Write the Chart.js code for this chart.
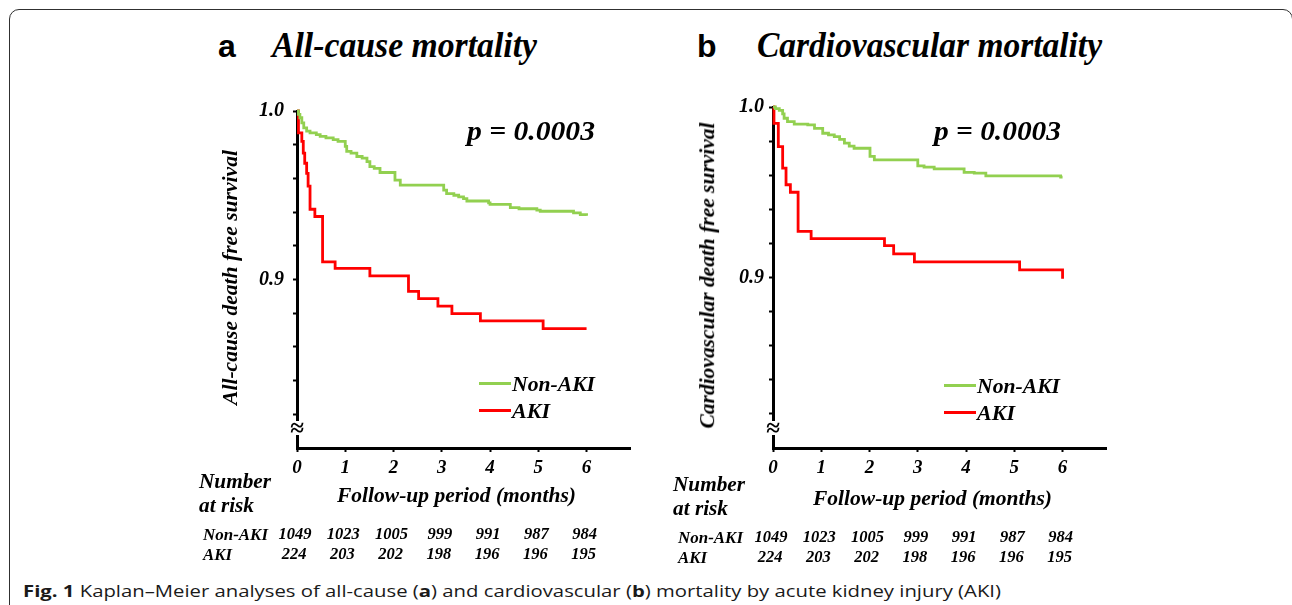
<!DOCTYPE html>
<html>
<head>
<meta charset="utf-8">
<script src="https://cdn.jsdelivr.net/npm/chart.js@4.4.1/dist/chart.umd.min.js"></script>
<style>
  html, body { margin: 0; padding: 0; background: #fff; }
  body { width: 1292px; height: 605px; position: relative; overflow: hidden; }
  .frame { position: absolute; left: 9px; top: 9px; width: 1284px; height: 700px; box-sizing: border-box;
           border: 1.6px solid #303030; border-radius: 10px; }
  canvas { position: absolute; }
  .txt { position: absolute; white-space: nowrap; color: #000; font-family: "Liberation Serif", serif;
         font-style: italic; font-weight: bold; }
  .key { position: absolute; height: 3px; }
  .brk { position: absolute; width: 14px; height: 14px; background: #fff; text-align: center;
         font: bold 25px/14px "Liberation Serif", serif; color: #000; }
  .caption { position: absolute; left: 23px; top: 581px; font-family: "Open Sans", sans-serif; font-size: 16px;
             line-height: 20px; color: #1a1a1a; white-space: nowrap; transform-origin: 0 50%; }
</style>
</head>
<body>
<div class="frame"></div>
<canvas id="chartA" width="470" height="400" style="left:180px;top:90px;width:470px;height:400px"></canvas>
<canvas id="chartB" width="470" height="400" style="left:656px;top:90px;width:470px;height:400px"></canvas>
<div class="caption" id="caption"><b>Fig. 1</b> Kaplan–Meier analyses of all-cause (<b>a</b>) and cardiovascular (<b>b</b>) mortality by acute kidney injury (AKI)</div>
<script>
const xTicks = [0, 1, 2, 3, 4, 5, 6];
const yTicks = [0.82, 0.84, 0.86, 0.88, 0.90, 0.92, 0.94, 0.96, 0.98, 1.00];
const yTickLabels = { "1.00": "1.0", "0.90": "0.9" };
const riskNonAKI = [1049, 1023, 1005, 999, 991, 987, 984];
const riskAKI = [224, 203, 202, 198, 196, 196, 195];

// a: all-cause mortality (event time in months, survival after the event)
const aNonAkiTime = [0, 0.03, 0.06, 0.10, 0.14, 0.20, 0.27, 0.40, 0.48, 0.60, 0.75, 0.85, 1.00, 1.03, 1.12, 1.24, 1.35, 1.45, 1.51, 1.60, 1.72, 2.03, 2.14, 3.04, 3.10, 3.25, 3.35, 3.45, 3.52, 3.97, 4.00, 4.42, 4.60, 4.97, 5.04, 5.73, 5.87, 6.00];
const aNonAkiSurv = [1.000, 0.998, 0.996, 0.993, 0.990, 0.988, 0.987, 0.986, 0.985, 0.984, 0.983, 0.982, 0.979, 0.976, 0.975, 0.973, 0.972, 0.970, 0.967, 0.966, 0.9635, 0.959, 0.956, 0.953, 0.951, 0.950, 0.949, 0.948, 0.9466, 0.9455, 0.9446, 0.9427, 0.942, 0.9412, 0.9405, 0.9395, 0.9385, 0.9378];
const aAkiTime = [0, 0.03, 0.10, 0.13, 0.16, 0.20, 0.23, 0.27, 0.37, 0.53, 0.79, 1.51, 2.31, 2.52, 2.92, 3.21, 3.80, 5.10, 6.00];
const aAkiSurv = [1.000, 0.987, 0.982, 0.975, 0.969, 0.963, 0.9554, 0.9417, 0.9374, 0.9105, 0.9066, 0.9022, 0.893, 0.8887, 0.8842, 0.8797, 0.8754, 0.8709, 0.8709];

// b: cardiovascular mortality
const bNonAkiTime = [0, 0.05, 0.13, 0.20, 0.23, 0.30, 0.44, 0.72, 0.86, 1.03, 1.15, 1.27, 1.38, 1.48, 1.58, 1.68, 2.01, 2.10, 3.00, 3.13, 3.34, 3.96, 4.17, 4.41, 5.96, 6.00];
const bNonAkiSurv = [1.000, 0.999, 0.998, 0.996, 0.9934, 0.9914, 0.990, 0.9895, 0.9875, 0.9846, 0.9836, 0.9826, 0.981, 0.9788, 0.977, 0.9758, 0.971, 0.969, 0.9655, 0.9647, 0.9637, 0.9616, 0.9612, 0.9596, 0.9589, 0.9589];
const bAkiTime = [0, 0.02, 0.11, 0.20, 0.27, 0.36, 0.52, 0.79, 2.31, 2.50, 2.93, 5.11, 6.00, 6.00];
const bAkiSurv = [1.000, 0.9904, 0.9768, 0.9641, 0.9544, 0.950, 0.9271, 0.9228, 0.9187, 0.9139, 0.9092, 0.9045, 0.9045, 0.8992];

const GREEN = "#92d050";
const RED = "#ff0000";
const serif = "Liberation Serif";

function toPoints(t, s) {
  return t.map((v, i) => ({ x: v, y: s[i] }));
}

function makeChart(canvasId, series, yPad) {
  const canvas = document.getElementById(canvasId);
  const tickFont = { family: serif, style: "italic", weight: "bold" };
  return new Chart(canvas.getContext("2d"), {
    type: "line",
    data: {
      datasets: series.map(s => ({
        data: toPoints(s.t, s.s),
        borderColor: s.color,
        borderWidth: 2.8,
        stepped: true,
        pointRadius: 0,
        fill: false,
        clip: false,
      }))
    },
    options: {
      responsive: false,
      animation: false,
      devicePixelRatio: 1,
      layout: { padding: { top: 17, right: 20, left: 0, bottom: 0 } },
      plugins: { legend: { display: false }, tooltip: { enabled: false } },
      scales: {
        x: {
          type: "linear", min: 0, max: 6.9,
          afterBuildTicks: sc => { sc.ticks = xTicks.map(v => ({ value: v })); },
          afterFit: sc => { sc.height = 42; },
          ticks: { color: "#000", font: { ...tickFont, size: 19 }, padding: 5, maxRotation: 0, autoSkip: false },
          grid: { drawOnChartArea: false, tickLength: 4, tickWidth: 2, color: "#000" },
          border: { color: "#000", width: 3 },
        },
        y: {
          type: "linear", min: 0.8, max: 1.0,
          afterBuildTicks: sc => { sc.ticks = yTicks.map(v => ({ value: v })); },
          afterFit: sc => { sc.width = 117; },
          ticks: {
            color: "#000", font: { ...tickFont, size: 20 }, padding: yPad, autoSkip: false,
            callback: v => yTickLabels[Number(v).toFixed(2)] || "",
          },
          grid: { drawOnChartArea: false, tickLength: 4, tickWidth: 2, color: "#000" },
          border: { color: "#000", width: 3 },
        }
      }
    }
  });
}

function addText(str, o) {
  const el = document.createElement("div");
  el.className = "txt";
  el.textContent = str;
  el.style.fontSize = o.size + "px";
  el.style.lineHeight = o.size + "px";
  if (o.font) el.style.fontFamily = o.font;
  if (o.plain) el.style.fontStyle = "normal";
  document.body.appendChild(el);
  const nat = el.getBoundingClientRect().width;
  const k = o.w ? o.w / nat : 1;
  el.style.top = (o.y - o.size / 2) + "px";
  if (o.rot) {
    el.style.left = (o.x - nat / 2) + "px";
    el.style.transform = `rotate(-90deg) scaleX(${k})`;
  } else if (o.center) {
    el.style.left = (o.x - nat / 2) + "px";
    el.style.transform = `scaleX(${k})`;
  } else {
    el.style.left = o.x + "px";
    el.style.transformOrigin = "0 50%";
    el.style.transform = `scaleX(${k})`;
  }
  return el;
}

function addKey(x, y, w, color) {
  const el = document.createElement("div");
  el.className = "key";
  el.style.left = x + "px";
  el.style.top = (y - 1.5) + "px";
  el.style.width = w + "px";
  el.style.background = color;
  document.body.appendChild(el);
}

function decorate(chart, left, top, p) {
  const xs = chart.scales.x;
  const ys = chart.scales.y;
  // axis break
  const brk = document.createElement("div");
  brk.className = "brk";
  brk.textContent = "≈";
  brk.style.left = (left + xs.left - 7) + "px";
  brk.style.top = (top + ys.getPixelForValue(0.812) - 7) + "px";
  document.body.appendChild(brk);

  addText(p.letter, { x: p.letterX, y: 46, size: 32, font: "Liberation Sans", plain: true });
  addText(p.title, { x: p.titleX, y: 45, size: 36, w: p.titleW });
  addText("p = 0.0003", { x: p.pX, y: 131, size: 27, w: p.pW });

  addKey(p.keyX, p.keyY1, 32, GREEN);
  addKey(p.keyX, p.keyY2, 32, RED);
  addText("Non-AKI", { x: p.keyX + 33, y: p.keyY1 + 0.5, size: 22, w: 83 });
  addText("AKI", { x: p.keyX + 33, y: p.keyY2 + 0.5, size: 22, w: 38 });

  addText(p.yTitle, { x: p.yTitleX, y: p.yTitleY, size: 21, w: p.yTitleW, rot: true });
  addText("Number", { x: p.nX, y: p.nY, size: 21, w: 72 });
  addText("at risk", { x: p.nX, y: p.nY + 24, size: 21, w: 55 });
  addText("Follow-up period (months)", { x: p.fX, y: p.fY, size: 22, w: 239 });

  addText("Non-AKI", { x: p.rX, y: p.rY, size: 17, w: 65 });
  addText("AKI", { x: p.rX, y: p.rY + 20, size: 17, w: 29 });
  xTicks.forEach((v, i) => {
    const cx = left + xs.getPixelForValue(v) - 2;
    addText(String(riskNonAKI[i]), { x: cx, y: p.rY, size: 16.5, center: true });
    addText(String(riskAKI[i]), { x: cx - 1, y: p.rY + 20, size: 16.5, center: true });
  });
}

const chartA = makeChart("chartA", [
  { t: aNonAkiTime, s: aNonAkiSurv, color: GREEN },
  { t: aAkiTime, s: aAkiSurv, color: RED },
], 9);
const chartB = makeChart("chartB", [
  { t: bNonAkiTime, s: bNonAkiSurv, color: GREEN },
  { t: bAkiTime, s: bAkiSurv, color: RED },
], 5);

decorate(chartA, 180, 90, {
  letter: "a", letterX: 218, title: "All-cause mortality", titleX: 272, titleW: 265,
  pX: 467, pW: 128, keyX: 479, keyY1: 383, keyY2: 410.5,
  yTitle: "All-cause death free survival", yTitleX: 231, yTitleY: 277.5, yTitleW: 255,
  nX: 199, nY: 481.5, fX: 337, fY: 495, rX: 203, rY: 534,
});
decorate(chartB, 656, 90, {
  letter: "b", letterX: 697, title: "Cardiovascular mortality", titleX: 757, titleW: 345,
  pX: 934, pW: 127, keyX: 944, keyY1: 385, keyY2: 412,
  yTitle: "Cardiovascular death free survival", yTitleX: 708, yTitleY: 275, yTitleW: 306,
  nX: 673, nY: 484.5, fX: 813, fY: 498, rX: 678, rY: 537,
});

const cap = document.getElementById("caption");
cap.style.transform = `scaleX(${978 / cap.getBoundingClientRect().width})`;
</script>
</body>
</html>
